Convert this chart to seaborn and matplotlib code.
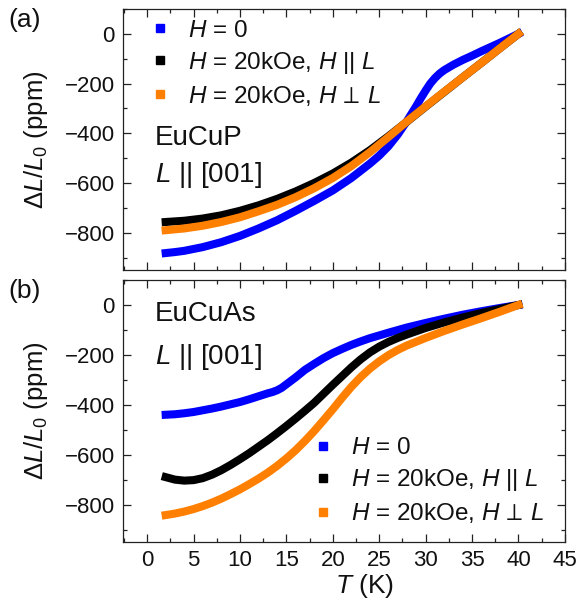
import numpy as np
import pandas as pd
import matplotlib
matplotlib.use("Agg")
import matplotlib.pyplot as plt
import seaborn as sns
from matplotlib.lines import Line2D
from matplotlib.ticker import MultipleLocator

# ---------------- data ----------------
series_labels = ["$H$ = 0", "$H$ = 20kOe, $H$ || $L$", r"$H$ = 20kOe, $H\,\perp\,L$"]
series_colors = ["#0000ff", "#000000", "#ff8000"]

# (a) EuCuP
T_p_h0 = [2, 3, 4, 6, 8, 10, 12, 14, 16, 18, 20, 22, 24, 25, 26, 27, 28, 29, 29.5, 30, 30.5,
          31, 31.5, 32, 33, 34, 35, 36, 37, 38, 39, 40]
dL_p_h0 = [-882, -878, -873, -858, -838, -813, -783, -750, -712, -672, -630, -580, -522, -490,
           -452, -405, -350, -290, -258, -228, -200, -178, -160, -146, -124, -105, -88, -70,
           -53, -36, -18, 0]
T_p_par = [2, 4, 6, 8, 10, 12, 14, 16, 18, 20, 22, 24, 26, 28, 30, 32, 34, 36, 38, 40]
dL_p_par = [-757, -752, -743, -730, -712, -690, -664, -634, -600, -562, -518, -468, -412, -353,
            -293, -234, -175, -117, -58, 0]
T_p_perp = [2, 4, 6, 8, 10, 12, 14, 16, 18, 20, 22, 24, 26, 28, 30, 32, 34, 36, 38, 40]
dL_p_perp = [-790, -783, -772, -757, -738, -714, -688, -657, -621, -580, -532, -476, -415, -352,
             -292, -233, -175, -117, -58, 0]

# (b) EuCuAs
T_as_h0 = [2, 3, 4, 5, 6, 7, 8, 9, 10, 11, 12, 13, 13.5, 14, 14.5, 15, 16, 17, 18, 19, 20, 21,
           22, 23, 24, 26, 28, 30, 32, 34, 36, 38, 40]
dL_as_h0 = [-440, -438, -434, -429, -422, -415, -407, -398, -389, -378, -366, -354, -349, -342,
            -332, -318, -290, -260, -236, -213, -193, -176, -160, -146, -133, -111, -90, -72,
            -55, -39, -25, -12, 0]
T_as_par = [2, 3, 4, 5, 6, 7, 8, 9, 10, 11, 12, 13, 14, 15, 16, 17, 18, 19, 20, 21, 22, 23, 24,
            25, 26, 27, 28, 30, 32, 34, 36, 38, 40]
dL_as_par = [-690, -700, -704, -702, -694, -680, -662, -641, -618, -594, -568, -542, -514, -485,
             -455, -424, -392, -356, -320, -285, -250, -218, -190, -167, -148, -132, -118, -92,
             -70, -50, -32, -16, 0]
T_as_perp = [2, 3, 4, 5, 6, 7, 8, 9, 10, 11, 12, 13, 14, 15, 16, 17, 18, 19, 20, 21, 22, 23, 24,
             25, 26, 27, 28, 30, 32, 34, 36, 38, 40]
dL_as_perp = [-842, -836, -828, -818, -806, -792, -776, -758, -739, -718, -696, -672, -645, -615,
              -582, -545, -505, -462, -418, -372, -328, -289, -255, -226, -201, -180, -162,
              -132, -104, -78, -53, -27, 0]

x_ticks = [0, 5, 10, 15, 20, 25, 30, 35, 40, 45]
y_ticks = [-800, -600, -400, -200, 0]

panel_a = [(T_p_h0, dL_p_h0), (T_p_par, dL_p_par), (T_p_perp, dL_p_perp)]
panel_b = [(T_as_h0, dL_as_h0), (T_as_par, dL_as_par), (T_as_perp, dL_as_perp)]

# ---------------- style ----------------
sns.set_theme(style="ticks")
plt.rcParams["font.family"] = ["Liberation Sans", "DejaVu Sans"]
plt.rcParams["mathtext.fontset"] = "custom"
plt.rcParams["mathtext.rm"] = "Liberation Sans"
plt.rcParams["mathtext.it"] = "Liberation Sans:italic"
plt.rcParams["mathtext.bf"] = "Liberation Sans:bold"
plt.rcParams["axes.unicode_minus"] = True
plt.rcParams["text.color"] = "#111111"
plt.rcParams["axes.labelcolor"] = "#111111"
plt.rcParams["xtick.labelcolor"] = "#111111"
plt.rcParams["ytick.labelcolor"] = "#111111"

FS_TICK = 16
FS_LEG = 17.5
FS_ANN = 20
FS_YLAB = 18.5
FS_XLAB = 19
FS_PANEL = 19

fig = plt.figure(figsize=(5.8, 6.06), dpi=100)
ax_a = fig.add_axes([0.212, 0.5545, 0.762, 0.4307])
ax_b = fig.add_axes([0.212, 0.1056, 0.762, 0.4323])


def draw(ax, panel):
    for (t, v), c in zip(panel, series_colors):
        df = pd.DataFrame({"T": t, "dL": v})
        sns.lineplot(data=df, x="T", y="dL", ax=ax, color=c, linewidth=5.8,
                     sort=False, estimator=None, legend=False,
                     solid_capstyle="projecting", solid_joinstyle="round")
    ax.set_xlim(-2.6, 45)
    ax.set_ylim(-950, 100)
    ax.set_xticks(x_ticks)
    ax.set_yticks(y_ticks)
    ax.xaxis.set_minor_locator(MultipleLocator(2.5))
    ax.yaxis.set_minor_locator(MultipleLocator(100))
    ax.tick_params(which="both", direction="in", top=True, right=True,
                   labelsize=FS_TICK, width=0.9, color="#222222", pad=6)
    ax.tick_params(which="major", length=5.5)
    ax.tick_params(which="minor", length=3)
    for s in ax.spines.values():
        s.set_linewidth(0.9)
        s.set_color("#222222")
    ax.set_ylabel(r"$\Delta L/L_0$ (ppm)", fontsize=FS_YLAB)
    ax.yaxis.set_label_coords(-0.165, 0.5)


draw(ax_a, panel_a)
draw(ax_b, panel_b)

ax_a.tick_params(labelbottom=False)
ax_a.set_xlabel("")
ax_b.set_xlabel("$T$ (K)", fontsize=FS_XLAB)
ax_b.xaxis.set_label_coords(0.547, -0.115)

handles = [Line2D([], [], linestyle="none", marker="s", markersize=6,
                  markerfacecolor=c, markeredgecolor=c) for c in series_colors]
leg_kw = dict(frameon=False, fontsize=FS_LEG, handlelength=0.9, handletextpad=0.7,
              labelspacing=0.33, borderpad=0, borderaxespad=0, loc="upper left")
ax_a.legend(handles, series_labels, bbox_to_anchor=(0.059, 0.958), **leg_kw)
ax_b.legend(handles, series_labels, bbox_to_anchor=(0.428, 0.40), **leg_kw)

ax_a.text(0.072, 0.506, "EuCuP", transform=ax_a.transAxes, fontsize=FS_ANN, va="center", ha="left")
ax_a.text(0.072, 0.364, "$L$ || [001]", transform=ax_a.transAxes, fontsize=FS_ANN, va="center", ha="left")
ax_b.text(0.072, 0.870, "EuCuAs", transform=ax_b.transAxes, fontsize=FS_ANN, va="center", ha="left")
ax_b.text(0.072, 0.706, "$L$ || [001]", transform=ax_b.transAxes, fontsize=FS_ANN, va="center", ha="left")

fig.text(8 / 580, 1 - 20 / 606, "(a)", fontsize=FS_PANEL, va="center", ha="left")
fig.text(8 / 580, 1 - 291 / 606, "(b)", fontsize=FS_PANEL, va="center", ha="left")

fig.savefig("out.png", dpi=100)
